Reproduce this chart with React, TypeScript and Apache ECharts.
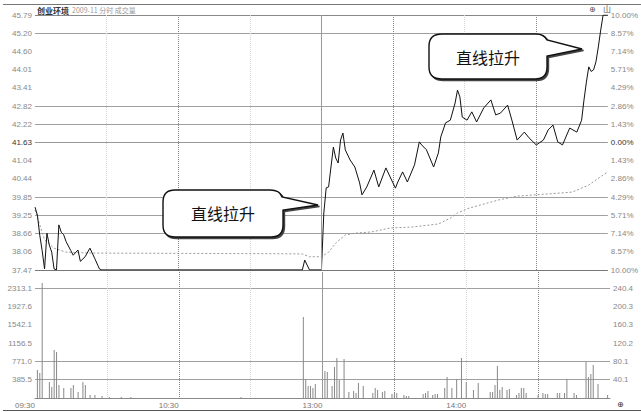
import React, { useEffect, useRef } from 'react';
import * as echarts from 'echarts';

// ---- data ----
const prevClose = 41.63;
const limitPct = 10;
const rowsPerSide = 7;

const timeTickMinutes = [0, 60, 120, 180];
const timeTickLabels = ['09:30', '10:30', '13:00', '14:00'];

const priceMinutes = [
  0, 1, 2, 3, 4, 5, 6, 7, 8, 9, 10, 11, 12, 13, 15, 16, 18, 19, 21, 23, 25, 27, 28,
  112, 113, 115, 120,
  121, 122, 123, 124, 125, 126, 127, 128, 129, 130, 132, 134, 136, 137, 139, 142, 144, 147, 149,
  151, 152, 154, 156, 159, 161, 162, 164, 167, 169, 170, 172, 174, 176, 177, 178, 179, 181, 183,
  185, 188, 191, 193, 195, 198, 200, 202, 205, 207, 210, 213, 215, 217, 219, 221, 224, 227, 229,
  230, 231, 232, 233, 234, 235, 236, 237, 238, 240,
];
const priceValues = [
  39.52, 39.26, 38.6, 38.1, 37.5, 38.67, 38.28, 38.05, 37.5, 37.47, 38.94, 38.7, 38.62, 38.4, 38.1,
  37.95, 38.12, 37.75, 37.9, 38.18, 37.85, 37.5, 37.47,
  37.47, 37.79, 37.47, 37.47,
  39.33, 40.15, 40.18, 40.83, 41.48, 41.12, 40.96, 41.71, 41.94, 41.39, 41.06, 40.83, 40.31, 39.92,
  40.18, 40.73, 40.18, 40.8, 40.47,
  40.14, 40.34, 40.67, 40.34, 40.9, 41.65, 41.55, 41.39, 40.83, 41.29, 41.81, 42.27, 42.36, 42.92,
  43.34, 43.12, 42.46, 42.36, 42.63,
  42.3, 42.76, 43.02, 42.53, 42.59, 42.85, 42.3, 41.71, 41.97, 41.78, 41.55, 41.71, 42.04, 42.2,
  41.65, 41.55, 42.1, 41.97, 42.36,
  43.02, 43.6, 44.1, 43.95, 44.0, 44.26, 44.75, 45.3, 45.79, 45.79,
];

const avgMinutes = [0, 2, 4, 8, 13, 23, 60, 100, 112, 115, 120, 123, 126, 130, 134, 141, 149, 158, 169, 174, 177, 182, 194, 202, 215, 225, 232, 238, 240];
const avgValues = [39.43, 38.94, 38.45, 38.18, 38.05, 38.02, 38.01, 38.0, 37.99, 37.9, 37.9, 38.05, 38.35, 38.61, 38.67, 38.71, 38.84, 38.87, 38.97, 39.16, 39.33, 39.49, 39.75, 39.88, 39.95, 40.01, 40.24, 40.57, 40.67];

const volMinutes = [
  1, 2, 3, 6, 7, 8, 9, 10, 12, 15, 16, 18, 20, 21, 23, 25, 28, 31, 36, 40, 86,
  112, 113, 114, 115, 116, 117, 121, 122, 124, 125, 126, 127, 129, 131, 133, 134, 135, 137, 141, 142,
  143, 145, 146, 149, 150, 151, 154, 155, 156, 162, 163, 164, 166, 167, 168, 171, 172, 174, 176, 178,
  180, 183, 185, 190, 191, 192, 193, 194, 195, 197, 198, 201, 202, 203, 204, 205, 210, 212, 213, 214,
  218, 219, 221, 222, 225, 226, 230, 231, 232, 233, 235, 239,
];
const volValues = [
  590, 527, 2423, 337, 232, 1011, 969, 274, 211, 211, 274, 126, 337, 274, 63, 63, 42, 21, 21, 21, 21,
  1707, 400, 253, 253, 211, 295, 569, 548, 253, 653, 843, 379, 822, 126, 147, 105, 316, 253, 105, 211,
  169, 126, 147, 84, 105, 105, 63, 42, 42, 84, 105, 147, 63, 84, 84, 211, 442, 211, 400, 843,
  337, 169, 316, 126, 126, 274, 674, 169, 232, 169, 190, 63, 105, 211, 211, 105, 63, 105, 84, 84,
  105, 105, 105, 400, 105, 63, 759, 442, 506, 695, 295, 63,
];

const volTopLabel = 2313.1; // top volume tick label (6 steps)
const volRightTopLabel = 240.4;
const volSteps = 6;

// ---- derived scale helpers ----
const rowStep = (prevClose * limitPct) / 100 / rowsPerSide;
const toRow = (p: number) => (p - prevClose) / rowStep;
const volStep = volTopLabel / volSteps;
const volMax = volStep * 6.885;
const volRightRatio = volRightTopLabel / volTopLabel;

const priceGridColors = [
  '#777', 'rgba(0,0,0,0)', '#a0a0a0', '#a0a0a0', '#a0a0a0', 'rgba(0,0,0,0)', 'rgba(0,0,0,0)',
  '#999', '#a0a0a0', '#a0a0a0', 'rgba(0,0,0,0)', 'rgba(0,0,0,0)', 'rgba(0,0,0,0)', '#a0a0a0', '#888',
];
const volGridColors = ['#888', '#a0a0a0', '#a0a0a0', 'rgba(0,0,0,0)', 'rgba(0,0,0,0)', 'rgba(0,0,0,0)', '#a0a0a0', 'rgba(0,0,0,0)'];
const vLineColors = ['rgba(0,0,0,0)', '#d4d4d4', '#888', '#d4d4d4', 'rgba(0,0,0,0)', '#888', '#d4d4d4', '#888', 'rgba(0,0,0,0)'];

const bubbleA =
  'M175 190 L270 190 Q280 190 282 197 L318 205 L283 210 L283 225 Q283 237 271 237 L175 237 Q163 237 163 225 L163 202 Q163 190 175 190 Z';
const bubbleB =
  'M442 34 L536 34 Q544 34 547 40 L582 49 L547 56 L547 67 Q547 79 535 79 L442 79 Q429 79 429 67 L429 46 Q429 34 442 34 Z';
echarts.graphic.registerShape('bubbleA', echarts.graphic.extendPath(bubbleA, {}) as any);
echarts.graphic.registerShape('bubbleB', echarts.graphic.extendPath(bubbleB, {}) as any);

const labelFont = 'Liberation Sans';

export default function App() {
  const ref = useRef<HTMLDivElement>(null);
  useEffect(() => {
    if (!ref.current) return;
    const chart = echarts.init(ref.current, undefined, { renderer: 'svg' });
    const sep = {
      silent: true,
      symbol: 'none',
      label: { show: false },
      lineStyle: { color: '#999', type: 'solid', width: 1 },
      data: [{ xAxis: 120 }],
    };
    const xBase = {
      type: 'value',
      min: 0,
      max: 240,
      interval: 30,
      axisTick: { show: false },
      splitLine: { show: true, lineStyle: { color: vLineColors, type: 'dotted', width: 1 } },
    };
    const option: any = {
      animation: false,
      backgroundColor: '#fff',
      textStyle: { fontFamily: labelFont },
      grid: [
        { left: 35, right: 31, top: 15, height: 255 },
        { left: 35, right: 31, top: 272, height: 126 },
      ],
      xAxis: [
        { ...xBase, gridIndex: 0, axisLine: { show: false }, axisLabel: { show: false } },
        {
          ...xBase,
          gridIndex: 1,
          axisLine: { show: true, lineStyle: { color: '#888' } },
          axisLabel: {
            fontSize: 8,
            color: '#777',
            margin: 3,
            align: 'right',
            formatter: (v: number) => {
              const i = timeTickMinutes.indexOf(v);
              return i >= 0 ? timeTickLabels[i] : '';
            },
          },
        },
      ],
      yAxis: [
        {
          type: 'value',
          gridIndex: 0,
          position: 'left',
          min: -rowsPerSide,
          max: rowsPerSide,
          interval: 1,
          axisLine: { show: false },
          axisTick: { show: false },
          axisLabel: {
            fontSize: 8,
            margin: 3,
            color: (v: any) => (Number(v) === 0 ? '#333' : '#888'),
            formatter: (v: number) => (prevClose + v * rowStep).toFixed(2),
          },
          splitLine: { show: true, lineStyle: { color: priceGridColors, width: 1 } },
        },
        {
          type: 'value',
          gridIndex: 0,
          position: 'right',
          min: -rowsPerSide,
          max: rowsPerSide,
          interval: 1,
          axisLine: { show: false },
          axisTick: { show: false },
          axisLabel: {
            fontSize: 8,
            margin: 3,
            color: (v: any) => (Number(v) === 0 ? '#333' : '#888'),
            formatter: (v: number) => Math.abs((v * limitPct) / rowsPerSide).toFixed(2) + '%',
          },
          splitLine: { show: false },
        },
        {
          type: 'value',
          gridIndex: 1,
          position: 'left',
          min: 0,
          max: volMax,
          interval: volStep,
          axisLine: { show: false },
          axisTick: { show: false },
          axisLabel: {
            fontSize: 8,
            margin: 3,
            color: '#888',
            showMinLabel: false,
            showMaxLabel: false,
            formatter: (v: number) => v.toFixed(1),
          },
          splitLine: { show: true, lineStyle: { color: volGridColors, width: 1 } },
        },
        {
          type: 'value',
          gridIndex: 1,
          position: 'right',
          min: 0,
          max: volMax,
          interval: volStep,
          axisLine: { show: false },
          axisTick: { show: false },
          axisLabel: {
            fontSize: 8,
            margin: 3,
            color: '#888',
            showMinLabel: false,
            showMaxLabel: false,
            formatter: (v: number) => (v * volRightRatio).toFixed(1),
          },
          splitLine: { show: false },
        },
      ],
      series: [
        {
          name: 'avg',
          type: 'line',
          xAxisIndex: 0,
          yAxisIndex: 0,
          symbol: 'none',
          data: avgMinutes.map((m, i) => [m, toRow(avgValues[i])]),
          lineStyle: { color: '#999', width: 1, type: [2, 2] },
          z: 3,
        },
        {
          name: 'price',
          type: 'line',
          xAxisIndex: 0,
          yAxisIndex: 0,
          symbol: 'none',
          data: priceMinutes.map((m, i) => [m, toRow(priceValues[i])]),
          lineStyle: { color: '#111', width: 1 },
          markLine: sep,
          z: 4,
        },
        {
          name: 'vol',
          type: 'bar',
          xAxisIndex: 1,
          yAxisIndex: 2,
          barWidth: 1,
          data: volMinutes.map((m, i) => [m, volValues[i]]),
          itemStyle: { color: '#888' },
          markLine: sep,
        },
      ],
      graphic: [
        { type: 'line', z: 50, shape: { x1: 3, y1: 4.5, x2: 641, y2: 4.5 }, style: { stroke: '#777', lineWidth: 1 } },
        { type: 'line', z: 50, shape: { x1: 3, y1: 410.5, x2: 641, y2: 410.5 }, style: { stroke: '#555', lineWidth: 1 } },
        { type: 'text', z: 50, x: 37, y: 6, style: { text: '创业环境', fontSize: 8, fontWeight: 'bold', fill: '#333', fontFamily: 'Noto Sans CJK SC' } },
        { type: 'text', z: 50, x: 72, y: 6, style: { text: '2009-11 分时 成交量', fontSize: 7, fill: '#999', fontFamily: 'Noto Sans CJK SC' } },
        { type: 'text', z: 50, x: 589, y: 5, style: { text: '⊕', fontSize: 8, fill: '#555', fontFamily: 'DejaVu Sans' } },
        { type: 'text', z: 50, x: 603, y: 4, style: { text: '山', fontSize: 8, fill: '#555', fontFamily: 'Noto Sans CJK SC' } },
        { type: 'text', z: 50, x: 617, y: 400, style: { text: '⊕', fontSize: 8, fill: '#333', fontFamily: 'DejaVu Sans' } },
        { type: 'bubbleA', z: 60, x: 1.5, y: 1.5, style: { fill: '#444', stroke: '#444', lineWidth: 1.4 } },
        { type: 'bubbleA', z: 61, style: { fill: '#fff', stroke: '#111', lineWidth: 1.4 } },
        { type: 'bubbleB', z: 60, x: 1.5, y: 1.5, style: { fill: '#444', stroke: '#444', lineWidth: 1.4 } },
        { type: 'bubbleB', z: 61, style: { fill: '#fff', stroke: '#111', lineWidth: 1.4 } },
        {
          type: 'text', z: 62, x: 223, y: 213,
          style: { text: '直线拉升', fontSize: 16, fill: '#111', align: 'center', verticalAlign: 'middle', fontFamily: 'Noto Sans CJK SC' },
        },
        {
          type: 'text', z: 62, x: 488, y: 57,
          style: { text: '直线拉升', fontSize: 16, fill: '#111', align: 'center', verticalAlign: 'middle', fontFamily: 'Noto Sans CJK SC' },
        },
      ],
    };
    chart.setOption(option);
    return () => chart.dispose();
  }, []);
  return (
    <div
      ref={ref}
      style={{ position: 'fixed', left: 0, top: 0, width: 641, height: 412, background: '#fff' }}
    />
  );
}
